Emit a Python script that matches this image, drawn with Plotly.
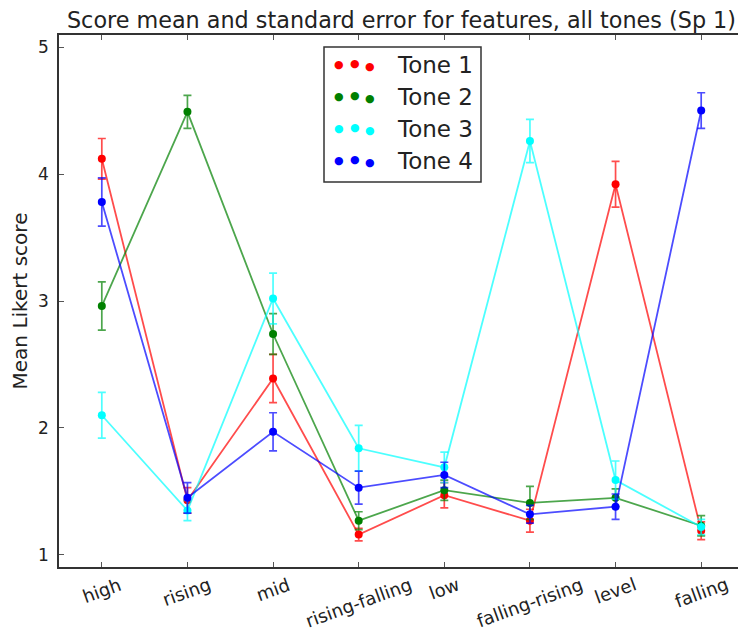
import plotly.graph_objects as go

categories = ["high", "rising", "mid", "rising-falling", "low", "falling-rising", "level", "falling"]

tone1_mean = [4.12, 1.43, 2.39, 1.16, 1.47, 1.27, 3.92, 1.19]
tone1_err = [0.16, 0.10, 0.19, 0.05, 0.10, 0.09, 0.18, 0.07]
tone2_mean = [2.96, 4.49, 2.74, 1.27, 1.51, 1.41, 1.45, 1.23]
tone2_err = [0.19, 0.13, 0.16, 0.07, 0.08, 0.13, 0.07, 0.08]
tone3_mean = [2.10, 1.35, 3.02, 1.84, 1.69, 4.26, 1.59, 1.22]
tone3_err = [0.18, 0.08, 0.20, 0.18, 0.12, 0.17, 0.15, 0.06]
tone4_mean = [3.78, 1.45, 1.97, 1.53, 1.63, 1.32, 1.38, 4.50]
tone4_err = [0.19, 0.12, 0.15, 0.13, 0.10, 0.07, 0.10, 0.14]

series_names = ["Tone 1", "Tone 2", "Tone 3", "Tone 4"]
series_means = [tone1_mean, tone2_mean, tone3_mean, tone4_mean]
series_errs = [tone1_err, tone2_err, tone3_err, tone4_err]
colors = [(255, 0, 0), (0, 128, 0), (0, 255, 255), (0, 0, 255)]

# page body has an 8px margin; the figure is offset accordingly
OFF = 8
SCR_W, SCR_H = 746, 630
W, H = SCR_W - OFF, SCR_H - OFF
# plot area in screen pixels: x 59..744, y 35..567
L = 59 - OFF
T = 35 - OFF
R = W - (744 - OFF)
B = H - (567 - OFF)
PW, PH = W - L - R, H - T - B
FONT = "DejaVu Sans"
TXT = "#222222"


def px(x):  # screen x -> paper
    return (x - OFF - L) / PW


def py(y):  # screen y -> paper
    return (H - B - (y - OFF)) / PH


fig = go.Figure()
for name, m, e, c in zip(series_names, series_means, series_errs, colors):
    rgba = "rgba(%d,%d,%d,0.7)" % c
    solid = "rgb(%d,%d,%d)" % c
    fig.add_trace(go.Scatter(
        x=categories, y=m, name=name, mode="lines+markers",
        line=dict(color=rgba, width=1.8),
        marker=dict(color=solid, size=8, line=dict(width=0)),
        error_y=dict(type="data", array=e, visible=True, color=rgba, thickness=1.7, width=4),
        showlegend=False,
    ))

axis_common = dict(
    showline=True, linecolor="#333333", linewidth=1.5, mirror="allticks",
    ticks="inside", ticklen=5, tickcolor="#555555", tickwidth=1,
    showgrid=False, zeroline=False, automargin=False,
    tickfont=dict(family=FONT, size=17, color=TXT),
)

fig.update_xaxes(type="category", categoryorder="array", categoryarray=categories,
                 range=[-0.5, len(categories) - 0.5], showticklabels=False, **axis_common)
fig.update_yaxes(range=[0.905, 5.095], tickvals=[1, 2, 3, 4, 5],
                 title=dict(text="Mean Likert score", font=dict(family=FONT, size=20, color=TXT), standoff=12),
                 ticklabelstandoff=5, **axis_common)

annotations = []
for cat in categories:
    annotations.append(dict(
        x=cat, y=0, xref="x", yref="paper", text=cat, showarrow=False,
        textangle=-20, xanchor="center", yanchor="top", yshift=-4,
        font=dict(family=FONT, size=18, color=TXT),
    ))

# legend (matplotlib-style, three dots per entry)
row_y = [65, 97, 129, 161]
dot_x = [339, 355, 370]
dot_dy = [0, -2, 1]
for name, c, ry in zip(series_names, colors, row_y):
    for dx, dy in zip(dot_x, dot_dy):
        annotations.append(dict(
            x=px(dx), y=py(ry + dy), xref="paper", yref="paper", text="●", showarrow=False,
            xanchor="center", yanchor="middle",
            font=dict(family=FONT, size=11, color="rgb(%d,%d,%d)" % c),
        ))
    annotations.append(dict(
        x=px(395), y=py(ry), xref="paper", yref="paper", text=name, showarrow=False,
        xanchor="left", yanchor="middle",
        font=dict(family=FONT, size=23, color=TXT),
    ))

shapes = [dict(type="rect", xref="paper", yref="paper",
               x0=px(324), x1=px(481), y0=py(182), y1=py(47),
               line=dict(color="#333333", width=1.5), fillcolor="white", layer="below")]

fig.update_layout(
    width=W, height=H,
    margin=dict(l=L, r=R, t=T, b=B, autoexpand=False),
    paper_bgcolor="white", plot_bgcolor="white",
    title=dict(text="Score mean and standard error for features, all tones (Sp 1)",
               font=dict(family=FONT, size=22.3, color=TXT),
               x=0.5, xref="paper", xanchor="center", y=1 - (20 - OFF) / H, yref="container", yanchor="middle"),
    annotations=annotations,
    shapes=shapes,
    showlegend=False,
)

fig.write_html("out.html")
